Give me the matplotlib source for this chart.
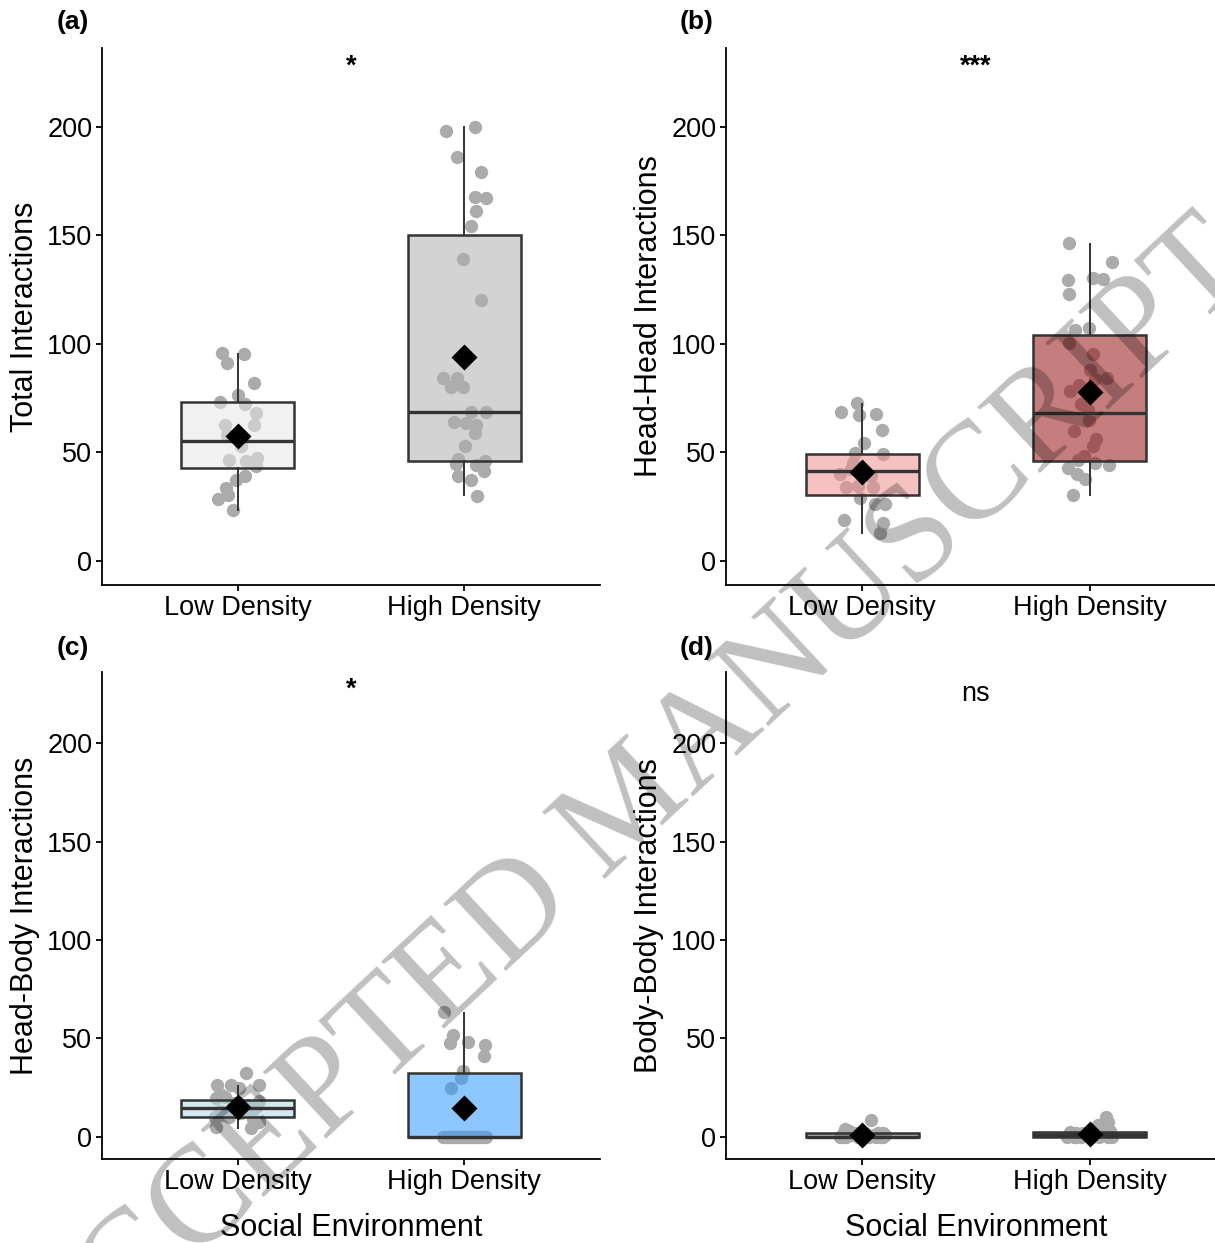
import numpy as np
import matplotlib
matplotlib.use('Agg')
import matplotlib.pyplot as plt
from matplotlib.colors import to_rgb

plt.rcParams['font.family'] = ['Liberation Sans', 'DejaVu Sans']

# ---------------- data ----------------
groups = ['Low Density', 'High Density']
panel_tags = ['(a)', '(b)', '(c)', '(d)']
y_titles = ['Total Interactions', 'Head-Head Interactions',
            'Head-Body Interactions', 'Body-Body Interactions']
signif = ['*', '***', '*', 'ns']
x_title = 'Social Environment'
y_ticks = [0, 50, 100, 150, 200]

# (a) Total interactions
a_low_vals = [95.5, 95, 90.9, 82, 76.3, 73.3, 72.2, 68.2, 62.5, 62.4, 57.9,
              52.6, 46.4, 47.2, 46, 43.4, 37.2, 39, 33.4, 30.3, 28.4, 23.4]
a_low_jit = [-0.069, 0.029, -0.047, 0.070, 0.0, -0.080, 0.032, 0.080, -0.058,
             0.070, -0.047, 0.015, -0.037, 0.085, 0.037, 0.080, -0.007, 0.032,
             -0.051, -0.044, -0.088, -0.022]
a_high_vals = [197.9, 200, 185.9, 179, 167.8, 167, 161, 154, 139.2, 120, 84.3,
               84.3, 80.2, 80.2, 68.4, 68.4, 64, 63.6, 62.5, 59, 53, 46.7, 45.7,
               44.6, 44, 41.5, 39, 37.2, 30]
a_high_jit = [-0.082, 0.047, -0.031, 0.076, 0.050, 0.098, 0.051, 0.029, -0.006,
              0.075, -0.092, -0.031, -0.060, -0.006, 0.032, 0.095, -0.045, 0.010,
              0.054, 0.047, 0.003, -0.026, 0.091, -0.034, 0.054, 0.086, -0.026,
              0.032, 0.057]

# (b) Head-head interactions
b_low_vals = [72.5, 68.4, 67.1, 67.4, 60.2, 54.4, 49.8, 49.2, 44.9, 39.8, 38.8,
              33.9, 34.5, 33.9, 28.8, 26.2, 26.2, 18.5, 17.3, 12.7, 41, 42]
b_low_jit = [-0.022, -0.096, -0.015, 0.061, 0.088, 0.007, -0.034, 0.091, -0.041,
             -0.099, 0.039, -0.070, -0.019, 0.047, -0.012, 0.054, 0.098, -0.082,
             0.091, 0.076, 0.003, -0.048]
b_high_vals = [146.4, 137.6, 129.2, 130.3, 130, 123, 107.3, 106.2, 100.1, 95.2,
               83.5, 84.3, 80.9, 78.2, 69.4, 64.8, 59.5, 52.9, 48, 44.9, 44.1,
               42.6, 40, 37.5, 30.3, 72, 56, 88, 46.5]
b_high_jit = [-0.092, 0.098, -0.095, 0.015, 0.058, -0.091, -0.003, -0.063, -0.091,
              0.015, 0.022, 0.077, -0.047, -0.088, -0.007, -0.003, -0.069, 0.015,
              -0.026, 0.025, 0.085, -0.095, -0.056, -0.022, -0.073, -0.037, 0.030,
              0.0, -0.050]

# (c) Head-body interactions
c_low_vals = [32.3, 26.4, 26.4, 26.4, 24.7, 20.5, 19.6, 15.4, 14, 13, 10.3, 10.3,
              7.8, 5.2, 4.4, 17, 12, 9, 22, 16, 11, 18]
c_low_jit = [0.037, -0.092, -0.032, 0.095, 0.007, -0.058, -0.095, 0.080, 0.037,
             -0.080, -0.102, -0.037, 0.095, -0.095, 0.058, -0.022, 0.015, 0.066,
             -0.080, 0.044, -0.066, 0.095]
c_high_vals = [63.3, 51.8, 47.5, 48.4, 46.7, 41.1, 33.7, 29.8, 24.7,
               0, 0, 0, 0, 0, 0, 0, 0, 0, 0, 0, 0, 0, 0, 0, 0, 0, 0, 0]
c_high_jit = [-0.089, -0.048, -0.063, 0.018, 0.094, 0.088, -0.004, -0.015, -0.058,
              -0.095, -0.08, -0.07, -0.06, -0.05, -0.04, -0.03, -0.02, -0.01, 0.0,
              0.01, 0.02, 0.03, 0.04, 0.05, 0.06, 0.07, 0.08, 0.095]

# (d) Body-body interactions
d_low_vals = [8.6, 4.2, 1.9, 3, 2, 2, 1, 1, 1, 1, 0, 0, 0, 0, 0, 0, 0, 1, 2, 0, 1, 0]
d_low_jit = [0.039, -0.077, 0.091, -0.06, 0.07, -0.03, -0.09, 0.02, 0.05, -0.05,
             -0.1, -0.07, -0.02, 0.0, 0.03, 0.06, 0.09, -0.04, 0.01, 0.08, 0.1, -0.08]
d_high_vals = [10.3, 7.3, 6.1, 2.7, 4, 3, 3, 2, 2, 2, 2, 1, 1, 1, 1, 1, 1,
               0, 0, 0, 0, 0, 0, 0, 1, 2, 3, 0, 1]
d_high_jit = [0.073, 0.080, 0.037, -0.088, 0.06, 0.09, 0.02, -0.06, 0.04, 0.0,
              -0.03, -0.09, -0.05, 0.03, 0.07, -0.02, 0.05, -0.1, -0.07, -0.04,
              0.01, 0.04, 0.08, 0.1, -0.01, 0.06, 0.05, -0.06, 0.09]

# box statistics: whislo, q1, median, q3, whishi, mean
a_low_stats = [23.4, 42.6, 54.9, 73.0, 95.0, 57.5]
a_high_stats = [30.3, 46.0, 68.4, 150.2, 199.7, 94.0]
b_low_stats = [12.7, 30.2, 41.4, 49.2, 72.2, 41.0]
b_high_stats = [30.3, 45.7, 67.9, 103.9, 146.0, 77.9]
c_low_stats = [4.4, 10.3, 14.9, 18.8, 25.9, 15.4]
c_high_stats = [0.0, 0.0, 0.0, 32.3, 62.8, 14.6]
d_low_stats = [0.0, 0.0, 0.0, 2.2, 4.2, 1.0]
d_high_stats = [0.0, 0.0, 1.0, 2.5, 6.1, 1.7]

panels = [
    [(a_low_vals, a_low_jit, a_low_stats), (a_high_vals, a_high_jit, a_high_stats)],
    [(b_low_vals, b_low_jit, b_low_stats), (b_high_vals, b_high_jit, b_high_stats)],
    [(c_low_vals, c_low_jit, c_low_stats), (c_high_vals, c_high_jit, c_high_stats)],
    [(d_low_vals, d_low_jit, d_low_stats), (d_high_vals, d_high_jit, d_high_stats)],
]

# apparent box fill colours (as seen on white)
fill_colors = [['#F2F2F2', '#D3D3D3'],
               ['#F7C1C1', '#C57D7D'],
               ['#D5E9F0', '#8EC6FF'],
               ['#B0B0B0', '#5A5A5A']]
box_alpha = 0.55

def face_rgba(appearance):
    rgb = np.array(to_rgb(appearance))
    base = (rgb - (1 - box_alpha)) / box_alpha
    base = np.clip(base, 0, 1)
    return (base[0], base[1], base[2], box_alpha)

# ---------------- figure ----------------
W, H = 1215, 1243
fig = plt.figure(figsize=(W / 100, H / 100), dpi=100)

def rect(l, r, t, b):
    return [l / W, 1 - b / H, (r - l) / W, (b - t) / H]

rects = [rect(102, 600, 48, 585), rect(726, 1226, 48, 585),
         rect(102, 600, 672, 1159), rect(726, 1226, 672, 1159)]
tag_pos = [(73, 22), (697, 22), (73, 648), (697, 648)]

edge = '#333333'
for i, (rc, panel) in enumerate(zip(rects, panels)):
    ax = fig.add_axes(rc)
    for j, (vals, jit, st) in enumerate(panel):
        pos = j + 1
        ax.plot(pos + np.array(jit), vals, 'o', ms=9.6, color='#ABABAB',
                mec='none', zorder=2, clip_on=False)
        bstat = dict(whislo=st[0], q1=st[1], med=st[2], q3=st[3], whishi=st[4],
                     fliers=[])
        ax.bxp([bstat], positions=[pos], widths=0.5, patch_artist=True,
               showcaps=False, showfliers=False,
               boxprops=dict(facecolor=face_rgba(fill_colors[i][j]),
                             edgecolor=edge, linewidth=1.8),
               medianprops=dict(color=edge, linewidth=2.4, solid_capstyle='butt'),
               whiskerprops=dict(color=edge, linewidth=1.4),
               zorder=3)
        ax.plot([pos], [st[5]], 'D', ms=13, color='black', mec='none', zorder=5)
    ax.set_xlim(0.4, 2.6)
    ax.set_ylim(-11.25, 236.25)
    ax.set_xticks([1, 2])
    ax.set_xticklabels(groups)
    ax.set_yticks(y_ticks)
    for s in ['top', 'right']:
        ax.spines[s].set_visible(False)
    for s in ['left', 'bottom']:
        ax.spines[s].set_linewidth(1.3)
        ax.spines[s].set_color('black')
    ax.tick_params(axis='both', length=4, width=1.3, color='black',
                   labelsize=19.5, labelcolor='black', pad=3)
    ax.set_ylabel(y_titles[i], fontsize=22, labelpad=5)
    if i >= 2:
        ax.set_xlabel(x_title, fontsize=22, labelpad=13)
    is_star = '*' in signif[i]
    ax.text(1.5, 227.5 if is_star else 225, signif[i], ha='center', va='center',
            fontsize=19.5, fontweight='bold' if is_star else 'normal')
    fig.text(tag_pos[i][0] / W, 1 - tag_pos[i][1] / H, panel_tags[i],
             ha='center', va='center', fontsize=19, fontweight='bold')

fig.text(0.52, 0.35, 'ACCEPTED MANUSCRIPT', rotation=43, ha='center',
         va='center', fontsize=100, family='Liberation Serif',
         color=(0, 0, 0, 0.25), zorder=10)

fig.savefig('out.png', dpi=100)
